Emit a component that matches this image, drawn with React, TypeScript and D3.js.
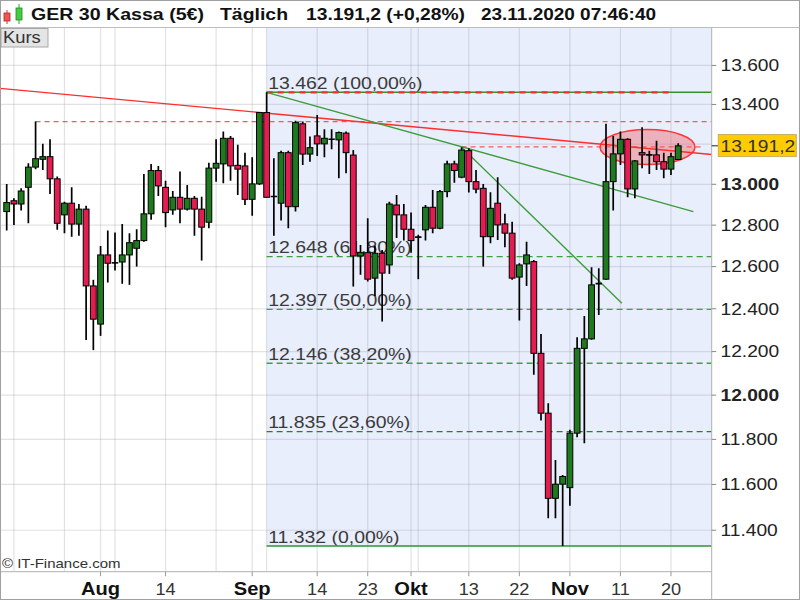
import React from "react";
import * as d3 from "d3";

const dates = [
  "2020-07-15","2020-07-16","2020-07-17","2020-07-20","2020-07-21","2020-07-22","2020-07-23","2020-07-24",
  "2020-07-27","2020-07-28","2020-07-29","2020-07-30","2020-07-31",
  "2020-08-03","2020-08-04","2020-08-05","2020-08-06","2020-08-07","2020-08-10","2020-08-11","2020-08-12",
  "2020-08-13","2020-08-14","2020-08-17","2020-08-18","2020-08-19","2020-08-20","2020-08-21","2020-08-24",
  "2020-08-25","2020-08-26","2020-08-27","2020-08-28","2020-08-31",
  "2020-09-01","2020-09-02","2020-09-03","2020-09-04","2020-09-07","2020-09-08","2020-09-09","2020-09-10",
  "2020-09-11","2020-09-14","2020-09-15","2020-09-16","2020-09-17","2020-09-18","2020-09-21","2020-09-22",
  "2020-09-23","2020-09-24","2020-09-25","2020-09-28","2020-09-29","2020-09-30",
  "2020-10-01","2020-10-02","2020-10-05","2020-10-06","2020-10-07","2020-10-08","2020-10-09","2020-10-12",
  "2020-10-13","2020-10-14","2020-10-15","2020-10-16","2020-10-19","2020-10-20","2020-10-21","2020-10-22",
  "2020-10-23","2020-10-26","2020-10-27","2020-10-28","2020-10-29","2020-10-30",
  "2020-11-02","2020-11-03","2020-11-04","2020-11-05","2020-11-06","2020-11-09","2020-11-10","2020-11-11",
  "2020-11-12","2020-11-13","2020-11-16","2020-11-17","2020-11-18","2020-11-19","2020-11-20","2020-11-23",
];

const opens = [
  12866,12919,12903,12985,13085,13124,13137,13027,12850,12907,12805,12878,12508,
  12328,12656,12622,12622,12656,12688,12725,12855,13068,12985,12874,12936,12878,12931,12878,12814,
  13080,13101,13229,13094,13091,
  12926,13002,13359,12938,12907,13157,12890,13302,13150,13241,13201,13217,13221,13255,13145,12651,
  12667,12545,12664,12608,12898,12850,
  12780,12740,12777,12887,12785,12964,13101,13035,13167,13013,12980,12744,12907,12806,12761,12550,
  12613,12624,12192,11918,11539,11601,
  11586,11828,12215,12259,12517,12540,13013,13151,13224,12977,13157,13152,13146,13112,13075,13123,
];
const highs = [
  13002,12931,12980,13104,13313,13201,13224,13038,12914,12985,12903,12894,12537,
  12699,12774,12764,12805,12761,12780,13051,13101,13091,13018,12967,13063,12997,12942,12939,13107,
  13224,13263,13241,13196,13157,
  13134,13362,13462,13129,13167,13167,13318,13313,13238,13347,13275,13275,13263,13263,13170,12704,
  12834,12700,12680,12914,12947,12903,
  12861,12753,12898,12972,12972,13117,13117,13184,13179,13071,13002,12961,13035,12855,12817,12616,
  12720,12632,12282,11963,11708,11642,
  11843,12267,12366,12597,12592,13302,13241,13263,13229,13121,13285,13167,13217,13157,13157,13204,
];
const lows = [
  12774,12801,12871,12809,13075,13071,12952,12777,12761,12744,12749,12254,12207,
  12273,12524,12581,12518,12513,12600,12720,12826,12942,12790,12850,12809,12871,12749,12629,12785,
  13013,13005,13018,12947,12898,
  12846,12997,12934,12749,12822,12785,12866,13096,13112,13140,13134,13174,13030,13055,12505,12561,
  12529,12460,12340,12565,12737,12725,
  12667,12540,12725,12761,12780,12936,13008,13030,12959,12956,12600,12712,12728,12693,12537,12345,
  12508,12093,11885,11452,11452,11332,
  11506,11810,11783,12255,12371,12537,12871,13096,12936,12931,13080,13051,13071,13030,13046,13123,
];
const closes = [
  12910,12903,12967,13085,13127,13137,13027,12809,12907,12805,12878,12508,12351,
  12656,12616,12618,12656,12715,12725,12855,13068,12992,12861,12936,12878,12931,12878,12790,13080,
  13104,13229,13091,13075,12926,
  13002,13359,12936,12940,13157,12890,13308,13150,13182,13201,13229,13224,13258,13157,12651,12667,
  12540,12664,12569,12903,12850,12780,
  12725,12742,12887,12785,12964,13101,13068,13170,13013,12976,12744,12882,12801,12761,12545,12608,
  12656,12192,11918,11539,11601,11635,
  11828,12215,12259,12513,12519,13013,13151,13224,12977,13116,13146,13146,13112,13075,13137,13191.2,
];

const yTicks = [11400, 11600, 11800, 12000, 12200, 12400, 12600, 12800, 13000, 13200, 13400, 13600];
const xTickDates = ["2020-08-03","2020-08-14","2020-09-01","2020-09-14","2020-09-23","2020-10-01","2020-10-13","2020-10-22","2020-11-02","2020-11-11","2020-11-20"];
const xTickLabels = ["Aug","14","Sep","14","23","Okt","13","22","Nov","11","20"];
const xTickBold = [true,false,true,false,false,true,false,false,true,false,false];
const gridDates = ["2020-07-16","2020-07-27","2020-08-03","2020-08-05","2020-08-14","2020-08-25","2020-09-01","2020-09-03","2020-09-14","2020-09-23","2020-10-01","2020-10-02","2020-10-13","2020-10-22","2020-11-02","2020-11-11","2020-11-20"];

const fibValues = [13462, 12648, 12397, 12146, 11835, 11332];
const fibLabels = ["13.462 (100,00%)","12.648 (61,80%)","12.397 (50,00%)","12.146 (38,20%)","11.835 (23,60%)","11.332 (0,00%)"];
const fibStartDate = "2020-09-03";

// trend lines: [startIndex, startValue, endIndex, endValue]
const redTrend = [-0.93, 13482, 97.65, 13148];
const greenTrend1 = [36, 13462, 95.1, 12866];
const greenTrend2 = [63, 13184, 85.2, 12426];
// dashed horizontal resistance levels: [startIndex, endIndex, value]
const redLevels = [[4, 97.7, 13313], [63, 96.4, 13186]];
const redTopLevel = [36, 92.3, 13462];
const lastPrice = 13191.2;

const W = 800, H = 600;
const plotRight = 711.7, plotTop = 27.5, plotBottom = 571.7;
const RED = "#e41c50", GREEN = "#1f7a1f";

const loc = d3.formatLocale({ decimal: ",", thousands: ".", grouping: [3], currency: ["", "€"] });
const fmtInt = loc.format(",.0f");
const fmt1 = loc.format(",.1f");

function T(props: any) {
  const { x, y, size = 16, weight = "normal", anchor = "start", sx = 1.2, fill = "#222", children } = props;
  return (
    <text transform={`translate(${x},${y}) scale(${sx},1)`} fontSize={size} fontWeight={weight}
      textAnchor={anchor} fill={fill} fontFamily="'Liberation Sans', Arial, sans-serif">{children}</text>
  );
}

export default function App() {
  const x = d3.scaleLinear().domain([0, dates.length - 1]).range([6.7, 678.2]);
  const xd = (d: string) => x(dates.indexOf(d));
  const y = d3.scaleLog().domain([11332, 13462]).range([546, 92.3]);
  const fibX = xd(fibStartDate);
  const priceY = y(lastPrice);

  return (
    <svg width={W} height={H} style={{ position: "absolute", left: 0, top: 0, background: "#fff" }}
      fontFamily="'Liberation Sans', Arial, sans-serif">
      <defs>
        <clipPath id="plot"><rect x={0} y={plotTop} width={plotRight} height={plotBottom - plotTop} /></clipPath>
      </defs>
      <rect x={0} y={0} width={W} height={H} fill="#fff" />
      {/* shading */}
      <rect x={fibX} y={plotTop} width={plotRight - fibX} height={y(11332) - plotTop} fill="#e9eefc" />
      {/* grid */}
      <g clipPath="url(#plot)">
        {yTicks.map(v => (
          <line key={v} x1={0} x2={plotRight} y1={y(v)} y2={y(v)} stroke="rgba(150,150,165,0.28)" strokeWidth={1.2} />
        ))}
        {gridDates.map(d => (
          <line key={d} x1={xd(d)} x2={xd(d)} y1={plotTop} y2={plotBottom} stroke="rgba(150,150,165,0.28)" strokeWidth={1.2} />
        ))}
      </g>
      {/* fib labels */}
      {fibValues.map((v, i) => (
        <T key={"fl" + i} x={fibX + 1.5} y={y(v) - 3.5} size={16.2} fill="#3a3a3a">{fibLabels[i]}</T>
      ))}
      <g clipPath="url(#plot)">
        {/* fib lines */}
        {fibValues.map((v, i) => {
          const solid = i === 0 || i === fibValues.length - 1;
          return (
            <line key={"f" + i} x1={fibX} x2={plotRight} y1={y(v)} y2={y(v)}
              stroke={solid ? "#2e952e" : i === 4 ? "#1f861f" : "#3fa03f"} strokeWidth={solid ? 1.6 : 1.4}
              strokeDasharray={solid ? undefined : "6,4"} />
          );
        })}
        <line x1={x(redTopLevel[0])} x2={x(redTopLevel[1])} y1={y(redTopLevel[2])} y2={y(redTopLevel[2])}
          stroke="#ff2a2a" strokeWidth={2.2} strokeDasharray="6,5" />
        {redLevels.map((l, i) => (
          <line key={"rl" + i} x1={x(l[0])} x2={x(l[1])} y1={y(l[2])} y2={y(l[2])}
            stroke="#ff5555" strokeWidth={1.3} strokeDasharray="5,4" />
        ))}
        {/* ellipse */}
        <ellipse cx={647.5} cy={y(13185)} rx={47.5} ry={17.5} fill="rgba(238,95,105,0.42)" stroke="#ff3535" strokeWidth={1.5} />
        {/* trend lines */}
        <line x1={x(redTrend[0])} y1={y(redTrend[1])} x2={x(redTrend[2])} y2={y(redTrend[3])} stroke="#ff2d2d" strokeWidth={1.4} />
        <line x1={x(greenTrend1[0])} y1={y(greenTrend1[1])} x2={x(greenTrend1[2])} y2={y(greenTrend1[3])} stroke="#3c9c3c" strokeWidth={1.4} />
        <line x1={x(greenTrend2[0])} y1={y(greenTrend2[1])} x2={x(greenTrend2[2])} y2={y(greenTrend2[3])} stroke="#3c9c3c" strokeWidth={1.4} />
        {/* candles */}
        {dates.map((d, i) => {
          const cx = x(i);
          const o = opens[i], c = closes[i];
          const yo = y(o), yc = y(c);
          const top = Math.min(yo, yc), h = Math.abs(yo - yc);
          const up = c >= o;
          return (
            <g key={d}>
              <line x1={cx} x2={cx} y1={y(highs[i])} y2={y(lows[i])} stroke="#000" strokeWidth={1.7} />
              {h < 1.5 ? (
                <line x1={cx - 3.2} x2={cx + 3.2} y1={yc} y2={yc} stroke="#000" strokeWidth={1.6} />
              ) : (
                <rect x={cx - 2.9} y={top} width={5.8} height={h} fill={up ? GREEN : RED} stroke="#000" strokeWidth={1} />
              )}
            </g>
          );
        })}
      </g>
      {/* header */}
      <rect x={0} y={0} width={W} height={plotTop} fill="#fff" />
      <line x1={0} x2={W} y1={plotTop} y2={plotTop} stroke="#bdbdbd" strokeWidth={1} />
      <line x1={7} x2={7} y1={10} y2={24} stroke="#d33" strokeWidth={1} />
      <rect x={4} y={13} width={6} height={8} fill="#ee5555" stroke="#b22" strokeWidth={0.8} />
      <line x1={19} x2={19} y1={4} y2={24} stroke="#2a2" strokeWidth={1} />
      <rect x={16} y={8} width={6} height={12} fill="#44cc44" stroke="#282" strokeWidth={0.8} />
      {[
        ["GER 30 Kassa (5€)", 31, 173],
        ["Täglich", 220, 68],
        [`${fmt1(lastPrice)} (+0,28%)`, 306, 159],
        ["23.11.2020 07:46:40", 481, 175],
      ].map(([s, px, w]: any) => (
        <text key={s} x={px} y={19.5} fontSize={16.5} fontWeight="bold" fill="#111" textLength={w}
          lengthAdjust="spacingAndGlyphs">{s}</text>
      ))}
      {/* Kurs button */}
      <rect x={1} y={28.5} width={47} height={18.5} fill="#e4e4e4" stroke="#a8a8a8" strokeWidth={1} />
      <T x={3} y={42.6} size={16} sx={1.15} fill="#333">Kurs</T>
      {/* right axis */}
      <line x1={plotRight} x2={plotRight} y1={plotTop} y2={H} stroke="#b0b0b0" strokeWidth={1} />
      {yTicks.filter(v => Math.abs(y(v) - priceY) > 16).map(v => (
        <g key={"yt" + v}>
          <line x1={plotRight} x2={plotRight + 4.5} y1={y(v)} y2={y(v)} stroke="#888" strokeWidth={1} />
          <T x={720.5} y={y(v) + 5.8} size={16} weight={v % 1000 === 0 ? "bold" : "normal"} fill="#222">{fmtInt(v)}</T>
        </g>
      ))}
      <line x1={plotRight} x2={718} y1={priceY} y2={priceY} stroke="#222" strokeWidth={1} />
      <rect x={718.3} y={priceY - 11.3} width={78} height={22} fill="#ffcc00" stroke="#c9b060" strokeWidth={1} />
      <T x={720.5} y={priceY + 5.8} size={16} fill="#333">{fmt1(lastPrice)}</T>
      {/* bottom axis */}
      <line x1={0} x2={plotRight} y1={plotBottom} y2={plotBottom} stroke="#b0b0b0" strokeWidth={1} />
      <T x={2} y={568.3} size={12.5} sx={1.2} fill="#333">© IT-Finance.com</T>
      {xTickDates.map((d, i) => (
        <g key={"xt" + d}>
          <line x1={xd(d)} x2={xd(d)} y1={plotBottom} y2={plotBottom + 4.5} stroke="#999" strokeWidth={1} />
          <T x={xd(d)} y={595} size={xTickBold[i] ? 17.5 : 16.5} weight={xTickBold[i] ? "bold" : "normal"}
            anchor="middle" sx={xTickBold[i] ? 1.15 : 1.1} fill={xTickBold[i] ? "#111" : "#333"}>{xTickLabels[i]}</T>
        </g>
      ))}
      {/* frame */}
      <rect x={0.5} y={0.5} width={W - 1} height={H - 1} fill="none" stroke="#a0a0a0" strokeWidth={1} />
    </svg>
  );
}
